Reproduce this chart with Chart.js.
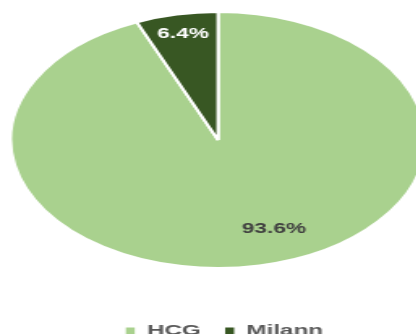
<!DOCTYPE html>
<html>
<head>
<meta charset="utf-8">
<script src="https://cdn.jsdelivr.net/npm/chart.js@4/dist/chart.umd.min.js"></script>
<style>
  html, body { margin: 0; padding: 0; background: #fff; overflow: hidden; width: 416px; height: 334px; }
  #wrap { position: absolute; left: 0; top: -30px; width: 270px; height: 380px;
          transform: scaleX(1.62); transform-origin: 0 0; }
</style>
</head>
<body>
<div id="wrap"><canvas id="pieChart" width="270" height="380"></canvas></div>
<script>
// chart data
var labels = ["HCG", "Milann"];
var shares = [93.6, 6.4];
var sliceColors = ["#A9D18E", "#385723"];
var labelColors = ["#404040", "#ffffff"];

// where each percentage sits inside its slice (fraction of radius, angle shift in degrees)
var labelRadius = [0.743, 0.845];
var labelShift = [-9.7, 0];
// legend sits a little right of the pie centre
var legendShift = 4;

// draw the percentage labels on the slices
var sliceLabels = {
  id: 'sliceLabels',
  afterLayout: function (chart) {
    chart.legend.left += legendShift;
    chart.legend.right += legendShift;
  },
  afterDatasetsDraw: function (chart) {
    var ctx = chart.ctx;
    var meta = chart.getDatasetMeta(0);
    ctx.save();
    ctx.font = "bold 14px 'Liberation Sans', Arial, sans-serif";
    ctx.textAlign = 'center';
    ctx.textBaseline = 'middle';
    meta.data.forEach(function (arc, i) {
      var p = arc.getProps(['x', 'y', 'startAngle', 'endAngle', 'outerRadius'], true);
      var a = (p.startAngle + p.endAngle) / 2 + labelShift[i] * Math.PI / 180;
      var r = p.outerRadius * labelRadius[i];
      ctx.fillStyle = labelColors[i];
      ctx.fillText(shares[i].toFixed(1) + '%', p.x + Math.cos(a) * r, p.y + Math.sin(a) * r);
    });
    ctx.restore();
  }
};

var ctx = document.getElementById("pieChart");
var pieChart = new Chart(ctx, {
  type: 'pie',
  data: {
    labels: labels,
    datasets: [{
      data: shares,
      backgroundColor: sliceColors,
      borderColor: "#ffffff",
      borderWidth: 2
    }]
  },
  options: {
    responsive: false,
    animation: false,
    devicePixelRatio: 1,
    layout: { padding: { left: 5.6, right: 6.4, top: 1.5, bottom: 1.5 } },
    plugins: {
      tooltip: { enabled: false },
      legend: {
        position: 'bottom',
        labels: {
          color: "#595959",
          font: { family: "'Liberation Sans', Arial, sans-serif", size: 15, weight: 'bold' },
          boxWidth: 5.5,
          boxHeight: 7,
          padding: 15,
          generateLabels: function (chart) {
            var items = Chart.overrides.pie.plugins.legend.labels.generateLabels(chart);
            items.forEach(function (it) { it.lineWidth = 0; it.strokeStyle = it.fillStyle; });
            return items;
          }
        }
      }
    }
  },
  plugins: [sliceLabels]
});
</script>
</body>
</html>
